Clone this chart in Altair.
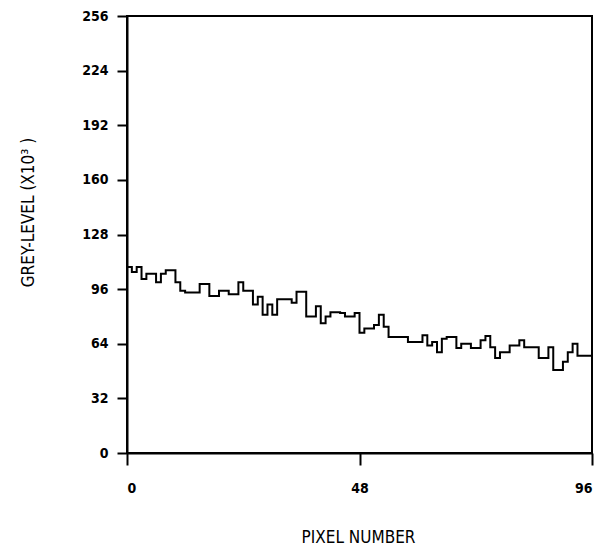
import altair as alt
import pandas as pd

# Grey-level per pixel (x10^3)
pixel_number = list(range(96))
grey_level = [
    109, 106, 109, 102, 105, 105, 100, 105, 107, 107,
    100, 95, 94, 94, 94, 99, 99, 92, 92, 95,
    95, 93, 93, 100, 95, 95, 87, 91.6, 81, 87,
    81, 90, 90, 90, 88, 94.5, 94.5, 80, 80, 86,
    76, 80, 82.5, 82.5, 82, 80, 80, 82, 70.5, 73,
    73, 75, 81, 74, 68, 68, 68, 68, 65, 65,
    65, 69, 63, 65, 59, 67, 68, 68, 61.5, 64,
    64, 61.5, 61.5, 66, 68.5, 62, 55.6, 59, 59, 63,
    63, 66, 62, 62, 62, 55.6, 55.6, 62, 48.6, 48.6,
    53.5, 59, 64, 57, 57, 57,
]
y_ticks = [0, 32, 64, 96, 128, 160, 192, 224, 256]
x_ticks = [0, 48, 96]

# close the final step at the right edge
df = pd.DataFrame({
    "pixel": pixel_number + [96],
    "grey": grey_level + [grey_level[-1]],
})

FONT = "Liberation Sans Narrow, DejaVu Sans Condensed, Arial Narrow, Liberation Sans, sans-serif"

chart = alt.Chart(df).mark_line(
    interpolate="step-after", color="black", strokeWidth=2
).encode(
    x=alt.X(
        "pixel:Q",
        scale=alt.Scale(domain=[0, 96], nice=False),
        axis=alt.Axis(
            values=x_ticks, title="PIXEL NUMBER", grid=False,
            tickSize=12, tickWidth=2, tickColor="black",
            domainColor="black", domainWidth=2,
            labelFont=FONT, labelFontSize=14, labelFontWeight="bold",
            labelColor="black", labelPadding=16, labelFlush=True,
            titleFont=FONT, titleFontSize=17, titleFontWeight="normal",
            titleColor="black", titleX=231, titleY=84,
            titleAlign="center", titleBaseline="middle",
        ),
    ),
    y=alt.Y(
        "grey:Q",
        scale=alt.Scale(domain=[0, 256], nice=False),
        axis=alt.Axis(
            values=y_ticks, title="GREY-LEVEL (X10³ )", grid=False,
            tickSize=10, tickWidth=2, tickColor="black",
            domainColor="black", domainWidth=2,
            labelFont=FONT, labelFontSize=14, labelFontWeight="bold",
            labelColor="black", labelPadding=9,
            titleFont=FONT, titleFontSize=17, titleFontWeight="normal",
            titleColor="black", titleX=-99, titleY=196, titleAngle=-90,
            titleAlign="center", titleBaseline="middle",
        ),
    ),
).properties(
    width=465,
    height=437,
    background="white",
    autosize=alt.AutoSizeParams(type="none"),
    padding={"left": 127, "top": 16, "right": 5, "bottom": 95},
).configure_view(
    stroke="black", strokeWidth=2
)

chart.save("out.html", embed_options={"renderer": "svg", "actions": False})
